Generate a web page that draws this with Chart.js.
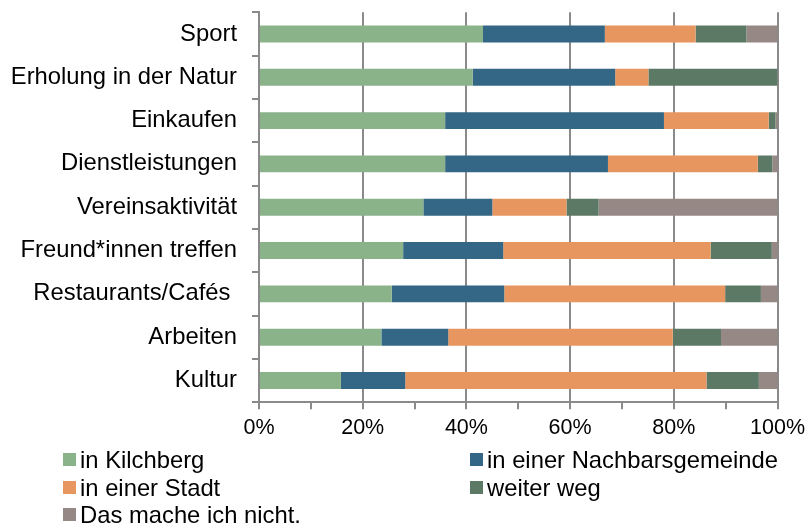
<!DOCTYPE html>
<html>
<head>
<meta charset="utf-8">
<script src="https://cdn.jsdelivr.net/npm/chart.js@4.4.1/dist/chart.umd.min.js"></script>
<style>
  html, body { margin: 0; padding: 0; background: #fff; overflow: hidden; }
  #wrap { position: relative; width: 807px; height: 524px; overflow: hidden; }
  #c { position: absolute; left: 0; top: -17px; }
  .leg { position: absolute; font-family: "Liberation Sans", Arial, sans-serif; font-size: 23.8px; color: #000; white-space: nowrap; line-height: 27px; }
  .leg span.box { position: absolute; width: 13px; height: 13px; top: 7px; }
  .leg span.txt { position: absolute; top: 0; }
</style>
</head>
<body>
<div id="wrap">
  <canvas id="c" width="811" height="541"></canvas>
  <div id="legend"></div>
</div>
<script>
const categories = ["Sport", "Erholung in der Natur", "Einkaufen", "Dienstleistungen", "Vereinsaktivität", "Freund*innen treffen", "Restaurants/Cafés ", "Arbeiten", "Kultur"];
const seriesNames = ["in Kilchberg", "in einer Nachbarsgemeinde", "in einer Stadt", "weiter weg", "Das mache ich nicht."];
const kilchberg      = [43.2, 41.2, 35.9, 35.9, 31.7, 27.8, 25.6, 23.6, 15.8];
const nachbargemeinde = [23.5, 27.5, 42.2, 31.4, 13.3, 19.3, 21.7, 12.9, 12.4];
const stadt          = [17.5, 6.4, 20.2, 28.9, 14.3, 40.0, 42.6, 43.3, 58.1];
const weiterWeg      = [9.8, 24.9, 1.3, 2.8, 6.2, 11.8, 6.9, 9.3, 10.1];
const nichtMachen    = [6.0, 0.0, 0.4, 1.0, 34.5, 1.1, 3.2, 10.9, 3.6];
const xTickLabels = ["0%", "20%", "40%", "60%", "80%", "100%"];
const colors = ["#8BB38A", "#346785", "#E8965F", "#5C7965", "#968884"];
const seriesValues = [kilchberg, nachbargemeinde, stadt, weiterWeg, nichtMachen];

const datasets = seriesNames.map((name, i) => ({
  label: name,
  data: seriesValues[i],
  backgroundColor: colors[i],
  borderWidth: 0,
  categoryPercentage: 1.0,
  barPercentage: 0.39
}));

const gridColor = "#8A8A8A";

new Chart(document.getElementById("c"), {
  type: "bar",
  data: { labels: categories, datasets },
  options: {
    indexAxis: "y",
    responsive: false,
    animation: false,
    devicePixelRatio: 1,
    layout: { padding: { left: 0, right: 0, top: 0, bottom: 77 } },
    plugins: { legend: { display: false }, tooltip: { enabled: false } },
    scales: {
      x: {
        stacked: true,
        min: 0, max: 100,
        border: { display: true, color: gridColor, width: 2 },
        grid: {
          color: ctx => (ctx.tick && ctx.tick.value % 20 === 0) ? gridColor : "rgba(0,0,0,0)",
          tickColor: gridColor,
          lineWidth: 2,
          tickLength: 7,
          drawTicks: true
        },
        ticks: {
          stepSize: 10,
          autoSkip: false,
          maxRotation: 0,
          padding: 6,
          color: "#000",
          font: { family: "'Liberation Sans', Arial, sans-serif", size: 21.5 },
          callback: v => (v % 20 === 0) ? xTickLabels[v / 20] : ""
        }
      },
      y: {
        stacked: true,
        border: { display: true, color: gridColor, width: 2 },
        grid: {
          drawOnChartArea: false,
          offset: true,
          color: gridColor,
          lineWidth: 2,
          tickLength: 7
        },
        ticks: {
          padding: 15,
          color: "#000",
          font: { family: "'Liberation Sans', Arial, sans-serif", size: 23.8 }
        },
        afterFit: s => { s.width = 259; }
      }
    }
  }
});

// HTML legend in two columns
const legendPos = [[63, 446], [470, 446], [63, 473.5], [470, 473.5], [63, 501]];
const legendEl = document.getElementById("legend");
seriesNames.forEach((name, i) => {
  const d = document.createElement("div");
  d.className = "leg";
  d.style.left = legendPos[i][0] + "px";
  d.style.top = legendPos[i][1] + "px";
  d.innerHTML = '<span class="box" style="left:0;background:' + colors[i] + '"></span><span class="txt" style="left:17px">' + name + '</span>';
  legendEl.appendChild(d);
});
</script>
</body>
</html>
